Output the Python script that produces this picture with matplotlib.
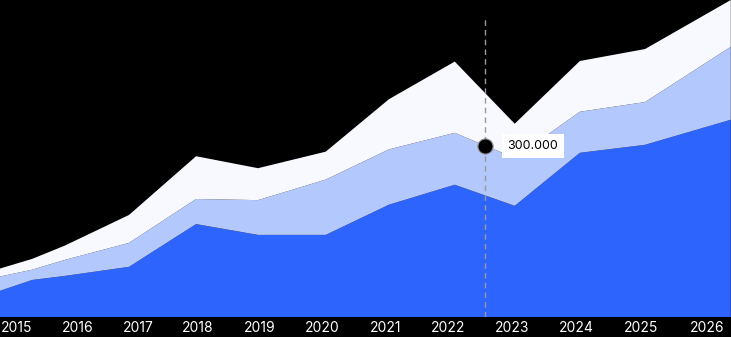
import matplotlib
matplotlib.use("Agg")
import matplotlib.pyplot as plt

# ---- data (values in thousands) ----
x_years = [2015.0, 2015.5, 2016.0, 2017.0, 2018.04, 2019.0, 2020.05,
           2021.03, 2022.05, 2022.98, 2023.99, 2025.0, 2026.33]
series_base = [46, 65, 72, 88, 163, 144, 144, 197, 232, 195, 288, 302, 346]
series_mid = [25, 18, 28, 42, 44, 61, 97, 97, 91, 84, 72, 75, 128]
series_top = [14, 19, 25, 49, 75, 56, 49, 88, 125, 60, 89, 93, 82]
tick_labels = ["2015", "2016", "2017", "2018", "2019", "2020",
               "2021", "2022", "2023", "2024", "2025", "2026"]
marker_x = 2022.52
marker_value = 300
marker_label = "300.000"

# ---- layout / style ----
tick_pos = [2015.25, 2016.21, 2017.14, 2018.07, 2019.03, 2019.99,
            2020.98, 2021.95, 2022.94, 2023.93, 2024.94, 2025.96]
colors = ["#2E64FE", "#B3C8FC", "#F7F9FF"]
font = ["Inter", "DejaVu Sans"]

fig = plt.figure(figsize=(7.31, 3.37), dpi=100, facecolor="black")
ax = fig.add_axes([0, 20 / 337, 1, 317 / 337])
ax.set_facecolor("black")

ax.stackplot(x_years, series_base, series_mid, series_top,
             colors=colors, linewidth=0, antialiased=True)

ax.set_xlim(2015.0, 2026.333)
ax.set_ylim(0, 556)

# dashed hover line
ax.vlines(marker_x, 0, 524, colors="#9A9A9A", linestyles=(0, (4, 3)),
          linewidth=1, zorder=5)
ax.plot([marker_x], [marker_value], marker="o", markersize=11,
        markerfacecolor="black", markeredgecolor="#9A9A9A",
        markeredgewidth=0.8, zorder=6, clip_on=False)
ax.annotate(marker_label, xy=(marker_x, marker_value), xytext=(16, 0),
            textcoords="offset points", va="center", ha="left",
            fontsize=9, family=font, color="black", zorder=7,
            bbox=dict(boxstyle="square,pad=0.45", fc="white", ec="none"))

ax.set_xticks(tick_pos)
ax.set_xticklabels(tick_labels, color="white", fontsize=10, family=font)
ax.tick_params(axis="x", length=0, pad=3)
ax.set_yticks([])
for s in ax.spines.values():
    s.set_visible(False)

fig.savefig("out.png", dpi=100, facecolor="black")
